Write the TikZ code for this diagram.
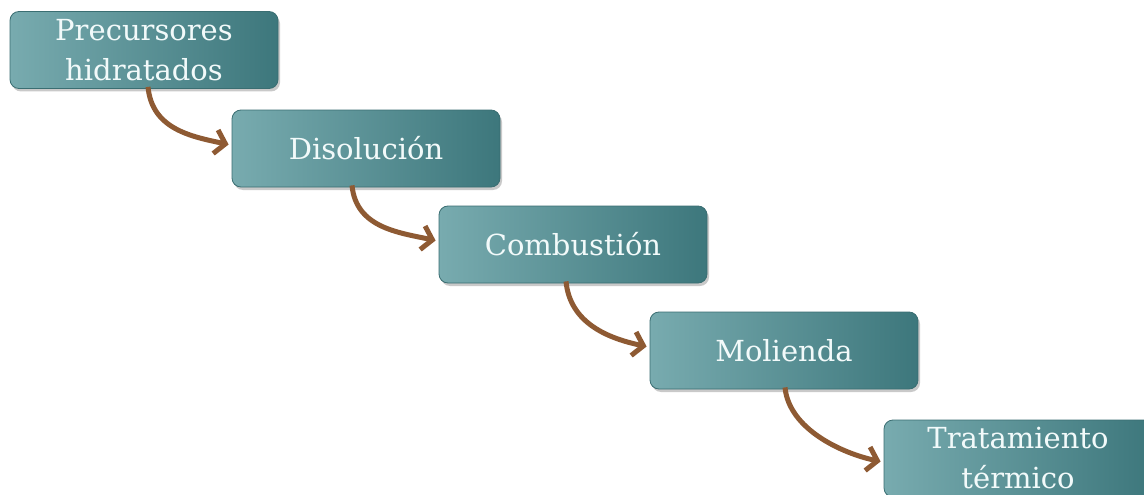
\documentclass[tikz,border=0pt]{standalone}
\usepackage{fontspec}
\setmainfont{DejaVu Serif}
\usetikzlibrary{arrows.meta,shadows}
\definecolor{tealL}{HTML}{78ABAF}
\definecolor{tealD}{HTML}{3D777C}
\definecolor{tealB}{HTML}{3A6E72}
\definecolor{arrowbrown}{HTML}{8E5A33}
\definecolor{txt}{HTML}{F2FAFA}
\tikzset{
  stepbox/.style={rounded corners=9pt, draw=tealB, line width=0.8pt,
    left color=tealL, right color=tealD,
    minimum width=268pt, minimum height=77pt, inner sep=0pt,
    text=txt, align=center, font=\fontsize{29}{40}\selectfont,
    drop shadow={shadow xshift=2pt, shadow yshift=-3pt, opacity=0.35, fill=black!60}},
  flow/.style={draw=arrowbrown, line width=5pt,
    -{Straight Barb[length=10pt,width=24pt,line width=5pt]}}
}
\begin{document}
\begin{tikzpicture}[x=1pt,y=-1pt]
\useasboundingbox (0,0) rectangle (1144,495);
\clip (0,0) rectangle (1144,495);
\fill[white] (0,0) rectangle (1144,495);
\node[stepbox] (b1) at (144,50) {Precursores\\hidratados};
\node[stepbox] (b2) at (366,148.5) {Disolución};
\node[stepbox] (b3) at (573,244.5) {Combustión};
\node[stepbox] (b4) at (784,350.5) {Molienda};
\node[stepbox] (b5) at (1018,458.5) {Tratamiento\\térmico};
\draw[flow] ([xshift=4pt,yshift=2pt]b1.south) .. controls +(4,42) and +(-38,-8) .. ([xshift=-3pt,yshift=4pt]b2.west);
\draw[flow] ([xshift=-14pt,yshift=2pt]b2.south) .. controls +(4,42) and +(-38,-8) .. ([xshift=-3pt,yshift=4pt]b3.west);
\draw[flow] ([xshift=-7pt,yshift=2pt]b3.south) .. controls +(4,42) and +(-38,-8) .. ([xshift=-3pt,yshift=4pt]b4.west);
\draw[flow] ([xshift=1pt,yshift=2pt]b4.south) .. controls +(4,42) and +(-38,-8) .. ([xshift=-3pt,yshift=-3pt]b5.west);
\end{tikzpicture}
\end{document}
